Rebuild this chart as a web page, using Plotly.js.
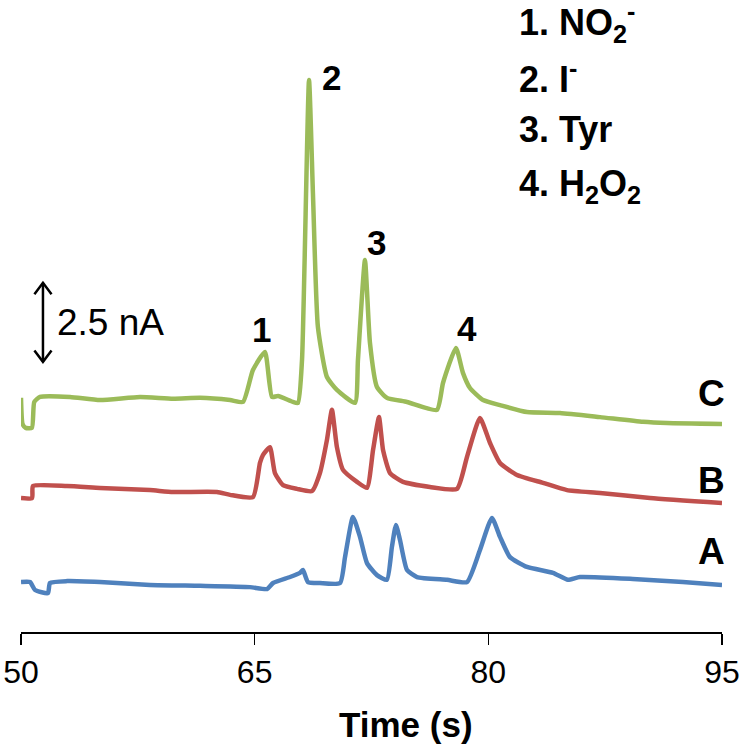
<!DOCTYPE html>
<html>
<head>
<meta charset="utf-8">
<script src="https://cdn.plot.ly/plotly-3.0.1.min.js"></script>
<style>html,body{margin:0;padding:0;background:#fff;}</style>
</head>
<body>
<div id="chart" style="width:742px;height:750px;"></div>
<script>
// Time (s) and current (nA, offset stacked)
const timeC = [50.00,50.10,50.30,50.70,50.85,51.22,53.15,55.07,57.64,59.76,61.49,63.42,64.25,64.89,65.66,66.11,66.50,67.46,67.78,68.04,68.49,68.74,69.06,69.64,70.28,71.44,71.63,72.08,72.40,72.85,73.49,74.78,76.70,77.09,77.92,78.37,78.82,79.66,80.75,82.48,84.60,87.17,89.93,91.47,95.00];
const currC = [7.41,6.58,6.46,6.46,7.28,7.44,7.44,7.34,7.44,7.38,7.41,7.34,7.28,8.29,8.86,7.44,7.47,7.28,7.25,8.61,17.47,13.89,9.65,8.07,7.66,7.25,8.61,11.77,9.15,7.75,7.41,7.28,7.03,7.88,8.99,8.20,7.72,7.34,7.18,6.96,6.93,6.80,6.65,6.61,6.58];

const timeB = [50.00,50.71,50.77,52.95,55.07,58.28,59.76,62.58,63.42,64.89,65.34,65.53,65.98,66.30,66.82,67.72,68.68,69.19,69.64,69.96,70.28,70.67,71.57,72.21,72.60,72.98,73.24,73.69,74.52,76.25,77.99,78.63,79.46,80.11,80.75,81.84,83.51,85.05,87.17,90.38,95.00];
const currB = [4.24,4.24,4.62,4.62,4.56,4.49,4.43,4.43,4.34,4.27,5.35,5.60,5.85,5.03,4.65,4.53,4.46,5.03,6.08,7.03,5.85,5.13,4.75,4.56,5.76,6.80,5.76,5.03,4.75,4.59,4.53,5.54,6.77,5.98,5.35,4.97,4.72,4.49,4.40,4.24,4.08];

const timeA = [50.00,50.58,50.90,51.73,51.86,52.95,55.07,58.28,61.49,64.70,65.79,66.18,67.27,67.91,68.10,68.42,69.19,70.48,70.80,71.31,71.76,72.21,72.85,73.49,73.81,74.07,74.33,74.78,75.42,77.35,78.63,79.46,80.23,80.75,81.39,82.48,84.15,85.11,85.88,89.28,92.49,95.00];
const currA = [1.58,1.58,1.33,1.23,1.55,1.61,1.58,1.49,1.46,1.42,1.36,1.55,1.74,1.87,1.96,1.58,1.55,1.55,2.37,3.64,3.01,2.18,1.80,1.65,2.69,3.39,2.91,1.96,1.74,1.65,1.58,2.59,3.61,3.01,2.37,2.06,1.87,1.65,1.74,1.68,1.58,1.49];

const xTicks = [50, 65, 80, 95];
const traceNames = ["C", "B", "A"];
const peakLabels = ["1", "2", "3", "4"];
const peakTimes = [65.41, 69.90, 72.85, 78.63];
const peakTops = [9.56, 17.56, 12.34, 9.62];
const legendItems = ["1. NO<sub>2</sub><sup>-</sup>", "2. I<sup>-</sup>", "3. Tyr", "4. H<sub>2</sub>O<sub>2</sub>"];
const scaleBarNA = 2.5;

const colors = {C: "#9BBB59", B: "#C0504D", A: "#4F81BD"};
const FONT = "Liberation Sans, Arial, sans-serif";

const traces = [
  {x: timeC, y: currC, name: "C", color: colors.C},
  {x: timeB, y: currB, name: "B", color: colors.B},
  {x: timeA, y: currA, name: "A", color: colors.A}
].map(t => ({
  type: "scatter", mode: "lines", x: t.x, y: t.y, name: t.name,
  line: {color: t.color, width: 4.5, shape: "spline", smoothing: 0.5}, cliponaxis: false, hoverinfo: "skip"
}));

const annotations = [];
peakLabels.forEach((lab, i) => {
  annotations.push({x: peakTimes[i], y: peakTops[i], xref: "x", yref: "y", text: lab, showarrow: false,
    xanchor: "center", yanchor: "middle", font: {family: FONT, size: 35, color: "#000", weight: "bold"}});
});
const traceLabelY = [7.56, 4.81, 2.56];
traceNames.forEach((n, i) => {
  annotations.push({x: 94.3, y: traceLabelY[i], xref: "x", yref: "y", text: n, showarrow: false,
    xanchor: "center", yanchor: "middle", font: {family: FONT, size: 37, color: "#000", weight: "bold"}});
});
const legendY = [19.28, 17.56, 15.89, 14.12];
legendItems.forEach((t, i) => {
  annotations.push({x: 81.85, y: legendY[i], xref: "x", yref: "y", text: t, showarrow: false,
    xanchor: "left", yanchor: "middle", font: {family: FONT, size: 36, color: "#000", weight: "bold"}});
});
// scale bar label
const sbX = 51.41, sbBottom = 8.55, sbTop = sbBottom + scaleBarNA;
annotations.push({x: 52.2, y: (sbTop + sbBottom) / 2, xref: "x", yref: "y", text: scaleBarNA + " nA", showarrow: false,
  xanchor: "left", yanchor: "middle", font: {family: FONT, size: 37, color: "#000"}});
// x-axis title
annotations.push({x: 0.549, y: -0.147, xref: "paper", yref: "paper", text: "Time (s)", showarrow: false,
  xanchor: "center", yanchor: "middle", font: {family: FONT, size: 35, color: "#000", weight: "bold"}});

const wx = 0.55, wy = 0.36;
const shapes = [
  {type: "line", xref: "x", yref: "y", x0: sbX, x1: sbX, y0: sbBottom, y1: sbTop, line: {color: "#000", width: 2.5}},
  {type: "path", xref: "x", yref: "y",
   path: `M ${sbX - wx} ${sbTop - wy} L ${sbX} ${sbTop} L ${sbX + wx} ${sbTop - wy}`, line: {color: "#000", width: 2.5}},
  {type: "path", xref: "x", yref: "y",
   path: `M ${sbX - wx} ${sbBottom + wy} L ${sbX} ${sbBottom} L ${sbX + wx} ${sbBottom + wy}`, line: {color: "#000", width: 2.5}}
];

const layout = {
  width: 742, height: 750,
  margin: {l: 21, r: 20, t: 0, b: 118},
  paper_bgcolor: "#fff", plot_bgcolor: "#fff",
  showlegend: false,
  xaxis: {
    range: [50, 95], tickvals: xTicks, ticktext: xTicks.map(String),
    showline: true, linecolor: "#000", linewidth: 1.5,
    ticks: "outside", ticklen: 11, tickwidth: 1.5, tickcolor: "#000",
    showgrid: false, zeroline: false,
    tickfont: {family: FONT, size: 32, color: "#000"}
  },
  yaxis: {range: [0, 20], visible: false, showgrid: false, zeroline: false},
  annotations: annotations,
  shapes: shapes
};

Plotly.newPlot("chart", traces, layout, {displayModeBar: false, staticPlot: true});
</script>
</body>
</html>
